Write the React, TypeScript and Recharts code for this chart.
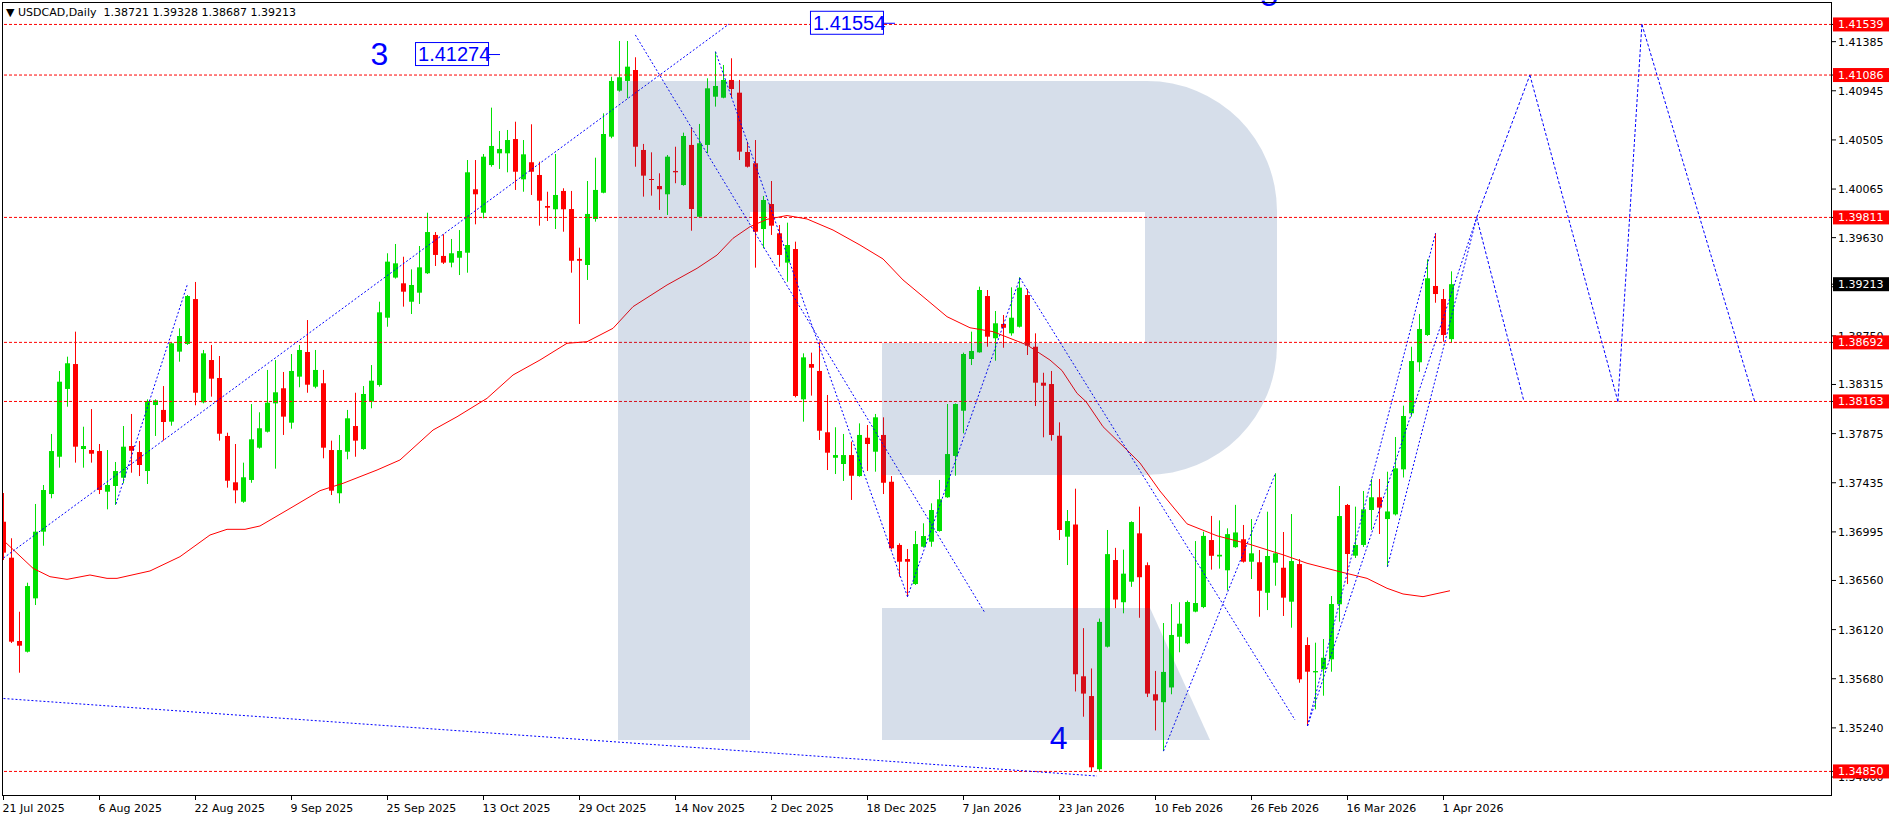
import React from 'react';
import { ComposedChart, Bar, Line, XAxis, YAxis, ReferenceLine, ReferenceDot } from 'recharts';

// daily USDCAD candles, 21 Jul 2025 .. 2 Apr 2026
const opens = [
  1.37086, 1.36764, 1.36018, 1.35922, 1.364, 1.36997, 1.37334, 1.37668, 1.38275, 1.38498,
  1.37737, 1.37728, 1.37719, 1.37355, 1.37406, 1.3748, 1.37764, 1.3771, 1.3754, 1.38131,
  1.38087, 1.37982, 1.38609, 1.38678, 1.3908, 1.38155, 1.38534, 1.38373, 1.37854, 1.37439,
  1.37265, 1.3746, 1.37749, 1.37892, 1.38146, 1.38281, 1.37973, 1.38385, 1.38606, 1.38295,
  1.38326, 1.37728, 1.37341, 1.37713, 1.37943, 1.37737, 1.38161, 1.3831, 1.38913, 1.39272,
  1.39221, 1.39056, 1.39137, 1.39311, 1.39654, 1.39466, 1.39406, 1.3945, 1.39495, 1.40063,
  1.39853, 1.4028, 1.40385, 1.40385, 1.40513, 1.40152, 1.40305, 1.40191, 1.39913, 1.39884,
  1.40048, 1.39886, 1.39439, 1.39385, 1.39797, 1.40032, 1.40534, 1.40946, 1.41033, 1.41131,
  1.40415, 1.40155, 1.40092, 1.40018, 1.40227, 1.40101, 1.4046, 1.39817, 1.4046, 1.40892,
  1.40883, 1.41042, 1.40928, 1.40397, 1.40296, 1.39707, 1.39931, 1.39669, 1.39406, 1.39528,
  1.38182, 1.38498, 1.38436, 1.37887, 1.37659, 1.37603, 1.37683, 1.37495, 1.37838, 1.37713,
  1.37863, 1.37444, 1.36878, 1.36752, 1.36528, 1.36862, 1.36907, 1.37003, 1.37305, 1.37675,
  1.3808, 1.38543, 1.38603, 1.39107, 1.38729, 1.38857, 1.38773, 1.38832, 1.39116, 1.38653,
  1.38331, 1.38319, 1.37856, 1.36952, 1.37061, 1.35702, 1.35525, 1.3487, 1.35967, 1.36743,
  1.36365, 1.36549, 1.36982, 1.36697, 1.35541, 1.3547, 1.35602, 1.36056, 1.35997, 1.36281,
  1.36322, 1.36922, 1.36775, 1.36651, 1.36858, 1.36929, 1.36728, 1.36723, 1.3645, 1.36719,
  1.36674, 1.3637, 1.36707, 1.35982, 1.35737, 1.35764, 1.35854, 1.36347, 1.37236, 1.36782,
  1.36878, 1.37191, 1.37305, 1.3711, 1.37152, 1.37555, 1.38057, 1.38514, 1.38758, 1.39197,
  1.3908, 1.38721,
];
const highs = [
  1.37343, 1.36938, 1.3628, 1.3654, 1.37245, 1.37415, 1.37872, 1.38436, 1.38564, 1.38788,
  1.37937, 1.38095, 1.37782, 1.37728, 1.37621, 1.37943, 1.38051, 1.37809, 1.38182, 1.38182,
  1.38301, 1.3869, 1.38818, 1.39116, 1.39233, 1.38624, 1.38669, 1.3857, 1.37883, 1.37782,
  1.37615, 1.3814, 1.38066, 1.38445, 1.38534, 1.38427, 1.38588, 1.38669, 1.38892, 1.38624,
  1.38445, 1.37812, 1.37863, 1.38087, 1.38241, 1.38301, 1.38489, 1.39056, 1.3949, 1.39573,
  1.39459, 1.39346, 1.39555, 1.39853, 1.3968, 1.3966, 1.39618, 1.39698, 1.40325, 1.40325,
  1.40379, 1.40794, 1.40585, 1.40594, 1.40668, 1.40504, 1.40645, 1.4031, 1.40041, 1.40379,
  1.40072, 1.40048, 1.3954, 1.40137, 1.40346, 1.40743, 1.41071, 1.41391, 1.41391, 1.41245,
  1.40469, 1.40394, 1.40206, 1.4037, 1.40444, 1.4057, 1.40618, 1.40648, 1.41057, 1.41295,
  1.41176, 1.41236, 1.41042, 1.40489, 1.40504, 1.40003, 1.40137, 1.39743, 1.39764, 1.39594,
  1.38594, 1.386, 1.38698, 1.38221, 1.37932, 1.37872, 1.37803, 1.37967, 1.37952, 1.38051,
  1.38021, 1.37495, 1.36893, 1.36842, 1.37003, 1.37072, 1.37251, 1.3746, 1.3814, 1.38145,
  1.386, 1.38788, 1.39191, 1.39161, 1.38973, 1.38937, 1.39185, 1.39275, 1.3917, 1.38773,
  1.3842, 1.38436, 1.37976, 1.37191, 1.37382, 1.36133, 1.35772, 1.36219, 1.37012, 1.36852,
  1.36836, 1.3709, 1.37221, 1.36722, 1.3575, 1.36179, 1.36349, 1.36365, 1.3638, 1.36913,
  1.36997, 1.37138, 1.37098, 1.37027, 1.37237, 1.37057, 1.3711, 1.36833, 1.37176, 1.3752,
  1.36994, 1.37155, 1.36752, 1.36051, 1.36003, 1.36036, 1.36421, 1.37406, 1.37245, 1.37221,
  1.37361, 1.37469, 1.37469, 1.37534, 1.37845, 1.38125, 1.38653, 1.38946, 1.39436, 1.39669,
  1.3917, 1.39328,
];
const lows = [
  1.36743, 1.36, 1.35734, 1.35915, 1.3634, 1.36871, 1.37296, 1.3757, 1.38116, 1.37615,
  1.3757, 1.37615, 1.37334, 1.37197, 1.37236, 1.3743, 1.37525, 1.37495, 1.37424, 1.37854,
  1.37812, 1.37946, 1.38519, 1.38669, 1.38129, 1.38146, 1.38206, 1.37812, 1.37391, 1.37251,
  1.37255, 1.37435, 1.3774, 1.37885, 1.37561, 1.37863, 1.37919, 1.3829, 1.38241, 1.38281,
  1.37654, 1.37325, 1.37251, 1.37645, 1.37668, 1.3773, 1.38102, 1.38295, 1.38832, 1.39263,
  1.39012, 1.38946, 1.39036, 1.39304, 1.39376, 1.39394, 1.39364, 1.39295, 1.39316, 1.39749,
  1.39803, 1.40265, 1.40245, 1.40215, 1.40057, 1.40041, 1.40012, 1.39737, 1.39779, 1.39707,
  1.39683, 1.39316, 1.38857, 1.39251, 1.39773, 1.40027, 1.4052, 1.40937, 1.40878, 1.40265,
  1.39997, 1.40006, 1.39878, 1.39833, 1.40117, 1.40095, 1.39692, 1.3981, 1.40385, 1.40803,
  1.40878, 1.40887, 1.40325, 1.40258, 1.39361, 1.39534, 1.39654, 1.3937, 1.39235, 1.382,
  1.37982, 1.38215, 1.37818, 1.37549, 1.37513, 1.37451, 1.37281, 1.37489, 1.3754, 1.37534,
  1.37334, 1.36839, 1.36594, 1.36415, 1.3652, 1.36855, 1.36862, 1.36997, 1.373, 1.37498,
  1.37878, 1.38489, 1.386, 1.38653, 1.38528, 1.38644, 1.38752, 1.38825, 1.38579, 1.38122,
  1.37842, 1.37812, 1.36922, 1.36698, 1.35566, 1.3534, 1.3485, 1.34855, 1.3596, 1.36312,
  1.36266, 1.36503, 1.36226, 1.35516, 1.35217, 1.35032, 1.35541, 1.35917, 1.3599, 1.36275,
  1.36312, 1.36657, 1.36666, 1.36472, 1.36852, 1.3672, 1.36573, 1.36235, 1.36295, 1.36513,
  1.36242, 1.36137, 1.35644, 1.35257, 1.35406, 1.35528, 1.35743, 1.36191, 1.36528, 1.36761,
  1.3686, 1.37012, 1.36976, 1.36683, 1.37142, 1.37482, 1.38027, 1.38429, 1.3875, 1.39047,
  1.38698, 1.38687,
];
const closes = [
  1.36809, 1.36012, 1.35976, 1.3651, 1.36997, 1.3737, 1.37719, 1.3834, 1.38505, 1.37758,
  1.37764, 1.37695, 1.3737, 1.37415, 1.3754, 1.37758, 1.37722, 1.37594, 1.38167, 1.38173,
  1.37979, 1.38684, 1.38749, 1.39107, 1.38241, 1.38594, 1.38367, 1.37874, 1.37453, 1.37367,
  1.37484, 1.37824, 1.37923, 1.38152, 1.38245, 1.38027, 1.38436, 1.38624, 1.38313, 1.38445,
  1.37749, 1.37364, 1.37728, 1.38012, 1.37812, 1.3823, 1.38349, 1.38961, 1.39415, 1.394,
  1.39146, 1.39206, 1.39364, 1.3968, 1.39475, 1.39406, 1.3949, 1.3951, 1.40215, 1.40018,
  1.40355, 1.40451, 1.40424, 1.40504, 1.4022, 1.40376, 1.4022, 1.39961, 1.39898, 1.40012,
  1.39884, 1.39423, 1.39423, 1.39842, 1.40057, 1.40558, 1.41033, 1.41066, 1.41161, 1.40444,
  1.40185, 1.40146, 1.40063, 1.40355, 1.40215, 1.4054, 1.39886, 1.40475, 1.40967, 1.40988,
  1.41042, 1.40961, 1.404, 1.40265, 1.39683, 1.39967, 1.39737, 1.39475, 1.39564, 1.38212,
  1.38558, 1.38465, 1.37901, 1.37704, 1.37683, 1.37683, 1.37498, 1.37863, 1.37782, 1.38021,
  1.37435, 1.36848, 1.36728, 1.36728, 1.36886, 1.36958, 1.37191, 1.37287, 1.37692, 1.3814,
  1.38588, 1.38615, 1.39161, 1.38743, 1.38863, 1.38823, 1.38913, 1.39182, 1.38662, 1.38331,
  1.38304, 1.37863, 1.37012, 1.37092, 1.3572, 1.35547, 1.34887, 1.36189, 1.36796, 1.36389,
  1.36621, 1.37083, 1.36589, 1.35547, 1.35485, 1.35741, 1.36072, 1.36173, 1.36367, 1.36358,
  1.36959, 1.36781, 1.3679, 1.36975, 1.3699, 1.36728, 1.36803, 1.36468, 1.36779, 1.36803,
  1.36406, 1.36734, 1.35675, 1.35743, 1.35749, 1.35868, 1.36349, 1.37137, 1.36797, 1.36878,
  1.37197, 1.37305, 1.37213, 1.37178, 1.37564, 1.38033, 1.38525, 1.38812, 1.39266, 1.39125,
  1.38758, 1.39213,
];

const dateLabels = [
  '21 Jul 2025', '6 Aug 2025', '22 Aug 2025', '9 Sep 2025', '25 Sep 2025', '13 Oct 2025',
  '29 Oct 2025', '14 Nov 2025', '2 Dec 2025', '18 Dec 2025', '7 Jan 2026', '23 Jan 2026',
  '10 Feb 2026', '26 Feb 2026', '16 Mar 2026', '1 Apr 2026',
];
const barsPerLabel = 12;

const priceTicks = [
  1.41385, 1.40945, 1.40505, 1.40065, 1.3963, 1.3919, 1.3875, 1.38315,
  1.37875, 1.37435, 1.36995, 1.3656, 1.3612, 1.3568, 1.3524, 1.348,
];
const levels = [1.41539, 1.41086, 1.39811, 1.38692, 1.38163, 1.3485];
const lastPrice = 1.39213;

// moving average (bar index, price)
const maIdx = [
  0.19, 3.69, 5.81, 7.94, 10.81, 12.94, 14.19, 18.31, 22.06, 25.81, 27.94, 30.19, 32.06, 36.19,
  39.56, 42.44, 46.69, 49.56, 53.69, 56.69, 60.44, 63.69, 67.06, 70.44, 72.94, 76.19, 78.69,
  82.94, 86.69, 89.19, 91.19, 93.31, 95.44, 97.94, 100.44, 103.69, 107.06, 109.94, 112.44,
  115.44, 117.94, 120.81, 123.69, 127.94, 130.81, 132.31, 134.19, 135.31, 137.44, 140.44,
  142.06, 144.56, 147.94, 151.69, 155.81, 159.94, 162.94, 167.06, 170.44, 172.94, 174.94,
  177.44, 180.81,
];
const maVal = [
  1.36905, 1.36669, 1.36594, 1.3657, 1.36609, 1.36579, 1.36579, 1.36645, 1.36773, 1.36967,
  1.37018, 1.37018, 1.37048, 1.37221, 1.37364, 1.3743, 1.37549, 1.37639, 1.37907, 1.38026,
  1.38191, 1.384, 1.38534, 1.38684, 1.38698, 1.38818, 1.39012, 1.39206, 1.39355, 1.39474,
  1.39624, 1.39728, 1.39794, 1.39828, 1.39797, 1.39698, 1.39564, 1.39439, 1.39251, 1.39072,
  1.38922, 1.38823, 1.38788, 1.38669, 1.38534, 1.3844, 1.38236, 1.38162, 1.37937, 1.37728,
  1.37612, 1.37361, 1.37067, 1.3696, 1.36883, 1.3679, 1.36714, 1.36638, 1.36579, 1.3649,
  1.36439, 1.36415, 1.36468,
];

// blue dotted wave lines: [startIdx, startPrice, endIdx, endPrice]
const waveLines = [
  [0, 1.36761, 90.69, 1.41543],
  [14.06, 1.37245, 23.03, 1.39221],
  [78.98, 1.41445, 122.69, 1.36269],
  [89, 1.41295, 113, 1.36415],
  [113, 1.36415, 127.06, 1.39269],
  [127.06, 1.39269, 161.44, 1.35311],
  [145, 1.35032, 159, 1.3752],
  [0, 1.35503, 136.69, 1.34809],
  [163, 1.35257, 179, 1.39669],
  [163, 1.35257, 184.15, 1.39811],
  [173, 1.36683, 184.15, 1.39811],
];
// dashed forecast path
const forecastLines = [
  [184.15, 1.39811, 190.06, 1.38163],
  [184.15, 1.39811, 190.8, 1.41086],
  [190.8, 1.41086, 201.8, 1.38163],
  [201.8, 1.38163, 204.8, 1.41539],
  [204.8, 1.41539, 218.9, 1.38163],
];

const waveMarks = [
  { text: '3', i: 47.0, v: 1.41176 },
  { text: '4', i: 131.9, v: 1.35054 },
  { text: '5', i: 158.2, v: 1.41704 },
];
const priceNotes = [
  { text: '1.41274', i: 51.44, v: 1.41274 },
  { text: '1.41554', i: 100.81, v: 1.41554 },
];

const BULL = '#00e000';
const BEAR = '#ff0000';
const BLUE = '#0000ff';
const AXIS_FONT = 'DejaVu Sans';

const candles = opens.map((o, i) => ({ i, o, h: highs[i], l: lows[i], c: closes[i] }));
const maData = maIdx.map((i, k) => ({ i, v: maVal[k] }));
const segData = (s: number[]) => [{ i: s[0], v: s[1] }, { i: s[2], v: s[3] }];

const Candle = (props: any) => {
  const { x, y, width, height, payload } = props;
  if (x == null || !payload) return null;
  const top = Math.min(y, y + height);
  const span = Math.abs(height);
  const { o, h, l, c } = payload;
  const py = (v: number) => (h === l ? top : top + ((h - v) / (h - l)) * span);
  const cx = x + width / 2;
  const color = c >= o ? BULL : BEAR;
  const bTop = py(Math.max(o, c));
  const bBot = py(Math.min(o, c));
  return (
    <g>
      <line x1={cx} x2={cx} y1={top} y2={top + span} stroke={color} strokeWidth={1} />
      <rect x={cx - 2.5} y={bTop} width={5} height={Math.max(1, bBot - bTop)} fill={color} />
    </g>
  );
};

const XTick = (props: any) => {
  const { x, y, payload } = props;
  const label = dateLabels[Math.round(payload.value / barsPerLabel)];
  return (
    <text x={x - 1} y={y + 12} fontFamily={AXIS_FONT} fontSize={11} fill="#000">
      {label}
    </text>
  );
};

// plain price ticks first, then the coloured level tags so they sit on top
const axisTicks = [...priceTicks, ...levels, lastPrice];

const YTick = (props: any) => {
  const { x, y, payload } = props;
  const v = Number(payload.value);
  const bg = v === lastPrice ? '#000' : levels.includes(v) ? '#ff0000' : null;
  if (bg) {
    return (
      <g>
        <rect x={x - 5} y={y - 7} width={56} height={14} fill={bg} />
        <text x={x} y={y + 4} fontFamily={AXIS_FONT} fontSize={11} fill="#fff">
          {v.toFixed(5)}
        </text>
      </g>
    );
  }
  return (
    <text x={x} y={y + 4} fontFamily={AXIS_FONT} fontSize={11} fill="#000">
      {v.toFixed(5)}
    </text>
  );
};

export default function App() {
  return (
    <div style={{ position: 'relative', width: 1895, height: 820, background: '#fff' }}>
      <style>{'body{margin:0;background:#fff}'}</style>
      <ComposedChart width={1895} height={820} data={candles} margin={{ top: 2, right: 0, bottom: 0, left: 2 }}>
        <XAxis
          dataKey="i"
          type="number"
          domain={[-0.1875, 228.5625]}
          allowDataOverflow
          ticks={dateLabels.map((_, k) => k * barsPerLabel)}
          interval={0}
          height={24}
          tickSize={4}
          tickMargin={0}
          tickLine={{ stroke: '#000' }}
          axisLine={false}
          tick={<XTick />}
        />
        <YAxis
          orientation="right"
          type="number"
          domain={[1.3463, 1.4174]}
          allowDataOverflow
          ticks={axisTicks}
          interval={0}
          width={63}
          tickSize={4}
          tickMargin={2}
          tickLine={{ stroke: '#000' }}
          axisLine={false}
          tick={<YTick />}
        />
        {levels.map((lv) => (
          <ReferenceLine key={lv} y={lv} stroke="#ff0000" strokeDasharray="3 2" />
        ))}
        <Bar dataKey={(d: any) => [d.l, d.h]} barSize={5} shape={<Candle />} isAnimationActive={false} />
        <Line data={maData} dataKey="v" stroke="#ff0000" strokeWidth={1} dot={false} isAnimationActive={false} />
        {waveLines.map((s, k) => (
          <Line
            key={'w' + k}
            data={segData(s)}
            dataKey="v"
            stroke={BLUE}
            strokeWidth={1}
            strokeDasharray="2 2"
            dot={false}
            isAnimationActive={false}
          />
        ))}
        {forecastLines.map((s, k) => (
          <Line
            key={'f' + k}
            data={segData(s)}
            dataKey="v"
            stroke={BLUE}
            strokeWidth={1}
            strokeDasharray="3 2"
            dot={false}
            isAnimationActive={false}
          />
        ))}
        {waveMarks.map((m) => (
          <ReferenceDot
            key={m.text}
            x={m.i}
            y={m.v}
            r={0}
            ifOverflow="visible"
            shape={(p: any) => (
              <text x={p.cx} y={p.cy} textAnchor="middle" fontFamily="Liberation Sans" fontSize={32} fill={BLUE}>
                {m.text}
              </text>
            )}
          />
        ))}
        {priceNotes.map((n) => (
          <ReferenceDot
            key={n.text}
            x={n.i}
            y={n.v}
            r={0}
            ifOverflow="visible"
            shape={(p: any) => (
              <g>
                <rect x={p.cx + 0.5} y={p.cy - 11.5} width={73} height={23} fill="#fff" stroke={BLUE} />
                <text x={p.cx + 3} y={p.cy + 7} fontFamily="Liberation Sans" fontSize={20} fill={BLUE}>
                  {n.text}
                </text>
                <line x1={p.cx + 74} x2={p.cx + 85} y1={p.cy + 0.5} y2={p.cy + 0.5} stroke={BLUE} />
              </g>
            )}
          />
        ))}
      </ComposedChart>
      <svg
        width={1895}
        height={820}
        style={{ position: 'absolute', left: 0, top: 0, pointerEvents: 'none' }}
      >
        {/* broker watermark */}
        <g fill="#1e4a8c" fillOpacity={0.18}>
          <rect x={618} y={81} width={132} height={659} />
          <path d="M750,81 H1147 A130,130 0 0 1 1277,211 V345 A130,130 0 0 1 1147,475 H882 V343 H1145 V212 H750 Z" />
          <path d="M882,608 H1150 L1210,740 H882 Z" />
        </g>
        <line x1={2.5} x2={2.5} y1={2} y2={796} stroke="#000" />
        <line x1={2} x2={1832} y1={2.5} y2={2.5} stroke="#000" />
        <line x1={1831.5} x2={1831.5} y1={2} y2={796} stroke="#000" />
        <line x1={2} x2={1832} y1={795.5} y2={795.5} stroke="#000" />
        <text x={6} y={16} fontFamily={AXIS_FONT} fontSize={11} fill="#000" style={{ whiteSpace: 'pre' }}>
          {'\u25BC USDCAD,Daily  1.38721 1.39328 1.38687 1.39213'}
        </text>
      </svg>
    </div>
  );
}
